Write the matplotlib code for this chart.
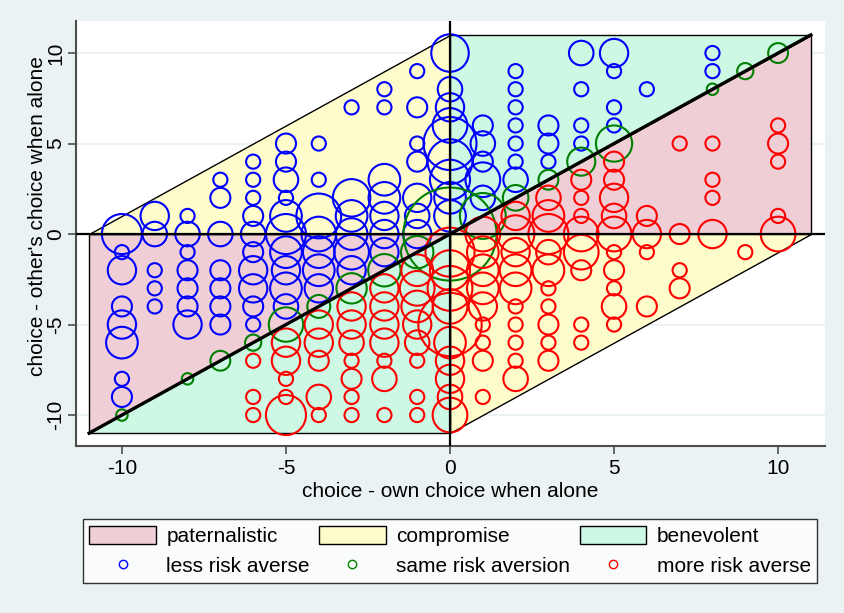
import numpy as np
import matplotlib.pyplot as plt
from matplotlib.patches import Polygon, Patch
from matplotlib.lines import Line2D

# ---------------- data: (choice - own alone, choice - other alone, count) ----------------
LESS_AVERSE = [  # blue
    (-10, 0, 8), (-9, 1, 4), (-9, 0, 3), (-8, 1, 1), (-8, 0, 3), (-7, 3, 1), (-7, 2, 2), (-7, 0, 3),
    (-6, 4, 1), (-6, 3, 1), (-6, 2, 1), (-6, 1, 2), (-6, 0, 3),
    (-5, 5, 2), (-5, 4, 2), (-5, 3, 3), (-5, 2, 1), (-5, 1, 5), (-5, 0, 8),
    (-4, 5, 1), (-4, 3, 1), (-4, 1, 10), (-4, 0, 6),
    (-3, 7, 1), (-3, 2, 7), (-3, 1, 5), (-3, 0, 5),
    (-2, 8, 1), (-2, 7, 1), (-2, 3, 5), (-2, 2, 5), (-2, 1, 4), (-2, 0, 4),
    (-1, 9, 1), (-1, 7, 2), (-1, 5, 1), (-1, 4, 2), (-1, 2, 4), (-1, 1, 3), (-1, 0, 4),
    (-10, -1, 1), (-10, -2, 4), (-10, -4, 2), (-10, -5, 4), (-10, -6, 5), (-10, -8, 1), (-10, -9, 2),
    (-9, -2, 1), (-9, -3, 1), (-9, -4, 1),
    (-8, -1, 1), (-8, -2, 2), (-8, -3, 2), (-8, -4, 2), (-8, -5, 4),
    (-7, -2, 2), (-7, -3, 2), (-7, -4, 2), (-7, -5, 2),
    (-6, -1, 2), (-6, -2, 4), (-6, -3, 4), (-6, -4, 2), (-6, -5, 1),
    (-5, -1, 5), (-5, -2, 4), (-5, -3, 5), (-5, -4, 3),
    (-4, -1, 5), (-4, -2, 5), (-4, -3, 4),
    (-3, -1, 6), (-3, -2, 4), (-2, -1, 4),
    (0, 10, 7), (0, 8, 3), (0, 7, 4), (0, 6, 6), (0, 5, 14), (0, 4, 10), (0, 3, 8), (0, 2, 5), (0, 1, 5),
    (1, 6, 2), (1, 5, 3), (1, 4, 2), (1, 3, 6), (1, 2, 3),
    (2, 9, 1), (2, 8, 1), (2, 7, 1), (2, 6, 1), (2, 5, 1), (2, 4, 1), (2, 3, 3),
    (3, 6, 2), (3, 5, 2), (3, 4, 1),
    (4, 10, 3), (4, 8, 1), (4, 6, 1), (4, 5, 1),
    (5, 10, 4), (5, 9, 1), (5, 7, 1), (5, 6, 1),
    (6, 8, 1), (8, 10, 1), (8, 9, 1),
]

SAME_AVERSION = [  # green
    (0, 0, 66), (1, 1, 16), (2, 2, 5), (3, 3, 3), (4, 4, 6), (5, 5, 10), (8, 8, 1), (9, 9, 2), (10, 10, 3),
    (-1, -1, 8), (-2, -2, 8), (-3, -3, 7), (-4, -4, 4), (-5, -5, 9), (-6, -6, 2), (-7, -7, 3),
    (-8, -8, 1), (-10, -10, 1),
]

MORE_AVERSE = [  # red
    (1, 0, 6), (2, 0, 7), (3, 0, 8), (4, 0, 6), (5, 0, 6), (6, 0, 4), (7, 0, 2), (8, 0, 4), (10, 0, 6),
    (2, 1, 4), (3, 1, 5), (4, 1, 1), (5, 1, 3), (6, 1, 2), (10, 1, 1),
    (3, 2, 3), (4, 2, 1), (5, 2, 4), (8, 2, 1),
    (4, 3, 2), (5, 3, 2), (8, 3, 1), (5, 4, 2), (10, 4, 1),
    (7, 5, 1), (8, 5, 1), (10, 5, 2), (10, 6, 1),
    (0, -1, 12), (0, -2, 8), (0, -3, 10), (0, -4, 6), (0, -5, 20), (0, -6, 5), (0, -7, 4),
    (0, -8, 4), (0, -9, 3), (0, -10, 6),
    (1, -1, 5), (1, -2, 5), (1, -3, 5), (1, -4, 4), (1, -5, 1), (1, -6, 1), (1, -7, 2), (1, -9, 1),
    (2, -1, 4), (2, -2, 5), (2, -3, 5), (2, -4, 1), (2, -5, 1), (2, -6, 1), (2, -7, 1), (2, -8, 3),
    (3, -1, 3), (3, -2, 5), (3, -3, 1), (3, -4, 1), (3, -5, 2), (3, -6, 1), (3, -7, 2),
    (4, -1, 6), (4, -2, 2), (4, -5, 1), (4, -6, 1),
    (5, -1, 1), (5, -2, 2), (5, -3, 1), (5, -4, 3), (5, -5, 1),
    (6, -1, 1), (6, -4, 2), (7, -2, 1), (7, -3, 2), (9, -1, 1),
    (-1, -2, 5), (-1, -3, 6), (-1, -4, 5), (-1, -5, 4), (-1, -6, 3), (-1, -7, 1), (-1, -9, 1), (-1, -10, 1),
    (-2, -3, 4), (-2, -4, 4), (-2, -5, 4), (-2, -6, 4), (-2, -7, 1), (-2, -8, 3), (-2, -10, 1),
    (-3, -4, 4), (-3, -5, 4), (-3, -6, 3), (-3, -7, 1), (-3, -8, 2), (-3, -9, 1), (-3, -10, 1),
    (-4, -5, 4), (-4, -6, 4), (-4, -7, 2), (-4, -9, 3), (-4, -10, 1),
    (-5, -6, 4), (-5, -7, 4), (-5, -8, 1), (-5, -9, 1), (-5, -10, 8),
    (-6, -7, 1), (-6, -9, 1), (-6, -10, 1),
]

TICKS = [-10, -5, 0, 5, 10]
LIM = 11
AREA_LABELS = ["paternalistic", "compromise", "benevolent"]
POINT_LABELS = ["less risk averse", "same risk aversion", "more risk averse"]

# ---------------- style ----------------
BG = "#EAF2F3"
PINK, YELLOW, MINT = "#F0CED6", "#FFFCCC", "#CCF8E4"
BLUE, GREEN, RED = "#0000FF", "#008000", "#FF0000"
FS = 15

plt.rcParams["font.family"] = ["Liberation Sans", "DejaVu Sans"]
plt.rcParams["font.size"] = FS
plt.rcParams["axes.unicode_minus"] = False

fig = plt.figure(figsize=(8.45, 6.13), dpi=100)
fig.patch.set_facecolor(BG)
ax = fig.add_axes([76 / 845, 1 - 446 / 613, 749 / 845, 425 / 613])
ax.set_xlim(-11.4, 11.43)
ax.set_ylim(-11.71, 11.77)

# region polygons
L = LIM
regions = [
    ([(-L, -L), (-L, 0), (0, 0)], PINK),
    ([(0, 0), (L, 0), (L, L)], PINK),
    ([(-L, 0), (0, 0), (0, L)], YELLOW),
    ([(0, -L), (0, 0), (L, 0)], YELLOW),
    ([(0, 0), (0, L), (L, L)], MINT),
    ([(-L, -L), (0, -L), (0, 0)], MINT),
]
for verts, col in regions:
    ax.add_patch(Polygon(verts, closed=True, facecolor=col, edgecolor="black", linewidth=1.0, zorder=1))

ax.set_yticks(TICKS)
ax.set_xticks(TICKS)
ax.grid(axis="y", color=BG, linewidth=1.5, zorder=0)
ax.set_axisbelow(True)


def bubbles(points, color, base):
    pts = np.array(points, dtype=float)
    ax.scatter(pts[:, 0], pts[:, 1], s=base * pts[:, 2], facecolors="none",
               edgecolors=color, linewidths=1.5, zorder=3)


bubbles(LESS_AVERSE, BLUE, 104)
bubbles(SAME_AVERSION, GREEN, 68)
bubbles(MORE_AVERSE, RED, 104)

# reference lines
ax.axhline(0, color="black", linewidth=1.6, zorder=4)
ax.axvline(0, color="black", linewidth=1.6, zorder=4)
ax.plot([-L, L], [-L, L], color="black", linewidth=2.4, zorder=4)

for side in ["top", "right"]:
    ax.spines[side].set_visible(False)
for side in ["left", "bottom"]:
    ax.spines[side].set_color("#4d4d4d")
    ax.spines[side].set_linewidth(1.5)
ax.tick_params(direction="out", length=6, width=1.2, color="#4d4d4d", labelsize=FS)
ax.tick_params(axis="x", pad=3.5)
ax.tick_params(axis="y", pad=1.5)
plt.setp(ax.get_yticklabels(), rotation=90, va="center", ha="right")

ax.set_xlabel("choice - own choice when alone", fontsize=FS, labelpad=3)
ax.set_ylabel("choice - other's choice when alone", fontsize=FS)
ax.yaxis.set_label_coords(-0.039, 0.541)

handles = [
    Patch(facecolor=PINK, edgecolor="black", linewidth=1.0),
    Line2D([], [], linestyle="none", marker="o", markerfacecolor="none", markeredgecolor=BLUE, markersize=6),
    Patch(facecolor=YELLOW, edgecolor="black", linewidth=1.0),
    Line2D([], [], linestyle="none", marker="o", markerfacecolor="none", markeredgecolor=GREEN, markersize=6),
    Patch(facecolor=MINT, edgecolor="black", linewidth=1.0),
    Line2D([], [], linestyle="none", marker="o", markerfacecolor="none", markeredgecolor=RED, markersize=6),
]
labels = [AREA_LABELS[0], POINT_LABELS[0], AREA_LABELS[1], POINT_LABELS[1], AREA_LABELS[2], POINT_LABELS[2]]
leg = fig.legend(handles, labels, ncol=3, loc="center",
                 bbox_to_anchor=(450 / 845, 1 - 551 / 613),
                 fontsize=FS, frameon=True, fancybox=False, edgecolor="black",
                 handlelength=3.2, handleheight=0.95, handletextpad=0.5,
                 columnspacing=0.45, labelspacing=0.5, borderpad=0.3, borderaxespad=0)
leg.get_frame().set_linewidth(1.0)

fig.savefig("out.png", dpi=100, facecolor=BG)
